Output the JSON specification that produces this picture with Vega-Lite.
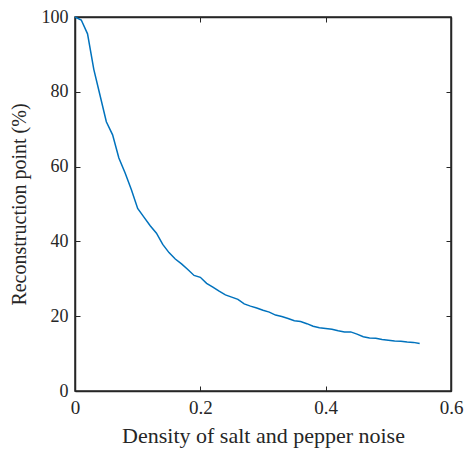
{
  "$schema": "https://vega.github.io/schema/vega-lite/v6.json",
  "autosize": {"type": "none"},
  "padding": {"left": 75, "top": 17, "right": 13, "bottom": 58},
  "width": 376,
  "height": 374,
  "background": "white",
  "config": {
    "view": {"stroke": "#262626", "strokeWidth": 1.5},
    "axis": {
      "labelFont": "Liberation Serif",
      "titleFont": "Liberation Serif",
      "labelFontSize": 18,
      "titleFontSize": 20,
      "labelColor": "#262626",
      "titleColor": "#262626",
      "titleFontWeight": "normal",
      "domainColor": "#262626",
      "domainWidth": 1.5,
      "tickColor": "#262626",
      "tickSize": -5,
      "tickWidth": 1,
      "grid": false,
      "labelFlush": false,
      "labelPadding": 12
    }
  },
  "data": {"values": [
    {"x": 0, "y": 100}, {"x": 0.01, "y": 99.2}, {"x": 0.02, "y": 95.5}, {"x": 0.03, "y": 86},
    {"x": 0.04, "y": 79}, {"x": 0.05, "y": 72}, {"x": 0.06, "y": 68.5}, {"x": 0.07, "y": 62.3},
    {"x": 0.08, "y": 58.3}, {"x": 0.09, "y": 53.8}, {"x": 0.1, "y": 48.8}, {"x": 0.11, "y": 46.5},
    {"x": 0.12, "y": 44.2}, {"x": 0.13, "y": 42.2}, {"x": 0.14, "y": 39.2}, {"x": 0.15, "y": 37.0},
    {"x": 0.16, "y": 35.3}, {"x": 0.17, "y": 34.0}, {"x": 0.18, "y": 32.5}, {"x": 0.19, "y": 30.9},
    {"x": 0.2, "y": 30.4}, {"x": 0.21, "y": 28.8}, {"x": 0.22, "y": 27.8}, {"x": 0.23, "y": 26.7},
    {"x": 0.24, "y": 25.7}, {"x": 0.25, "y": 25.1}, {"x": 0.26, "y": 24.5}, {"x": 0.27, "y": 23.3},
    {"x": 0.28, "y": 22.7}, {"x": 0.29, "y": 22.2}, {"x": 0.3, "y": 21.6}, {"x": 0.31, "y": 21.1},
    {"x": 0.32, "y": 20.3}, {"x": 0.33, "y": 19.9}, {"x": 0.34, "y": 19.4}, {"x": 0.35, "y": 18.8},
    {"x": 0.36, "y": 18.6}, {"x": 0.37, "y": 18.0}, {"x": 0.38, "y": 17.3}, {"x": 0.39, "y": 16.9},
    {"x": 0.4, "y": 16.7}, {"x": 0.41, "y": 16.5}, {"x": 0.42, "y": 16.1}, {"x": 0.43, "y": 15.8},
    {"x": 0.44, "y": 15.8}, {"x": 0.45, "y": 15.2}, {"x": 0.46, "y": 14.5}, {"x": 0.47, "y": 14.2},
    {"x": 0.48, "y": 14.1}, {"x": 0.49, "y": 13.8}, {"x": 0.5, "y": 13.6}, {"x": 0.51, "y": 13.4},
    {"x": 0.52, "y": 13.3}, {"x": 0.53, "y": 13.1}, {"x": 0.54, "y": 13.0}, {"x": 0.55, "y": 12.7}
  ]},
  "layer": [
    {
      "mark": {"type": "line", "color": "#0072BD", "strokeWidth": 1.5},
      "encoding": {
        "x": {"field": "x", "type": "quantitative", "scale": {"domain": [0, 0.6], "nice": false},
          "axis": {"orient": "bottom", "values": [0, 0.2, 0.4, 0.6], "format": "~g", "labelFontSize": 19, "titleFontSize": 22, "title": "Density of salt and pepper noise", "titlePadding": 8}},
        "y": {"field": "y", "type": "quantitative", "scale": {"domain": [0, 100], "nice": false},
          "axis": {"orient": "left", "values": [0, 20, 40, 60, 80, 100], "title": "Reconstruction point (%)", "titlePadding": 12}}
      }
    },
    {
      "mark": {"type": "line", "opacity": 0},
      "encoding": {
        "x": {"field": "x", "type": "quantitative",
          "axis": {"orient": "top", "values": [0, 0.2, 0.4, 0.6], "labels": false, "title": null}},
        "y": {"field": "y", "type": "quantitative",
          "axis": {"orient": "right", "values": [0, 20, 40, 60, 80, 100], "labels": false, "title": null}}
      }
    }
  ]
}
